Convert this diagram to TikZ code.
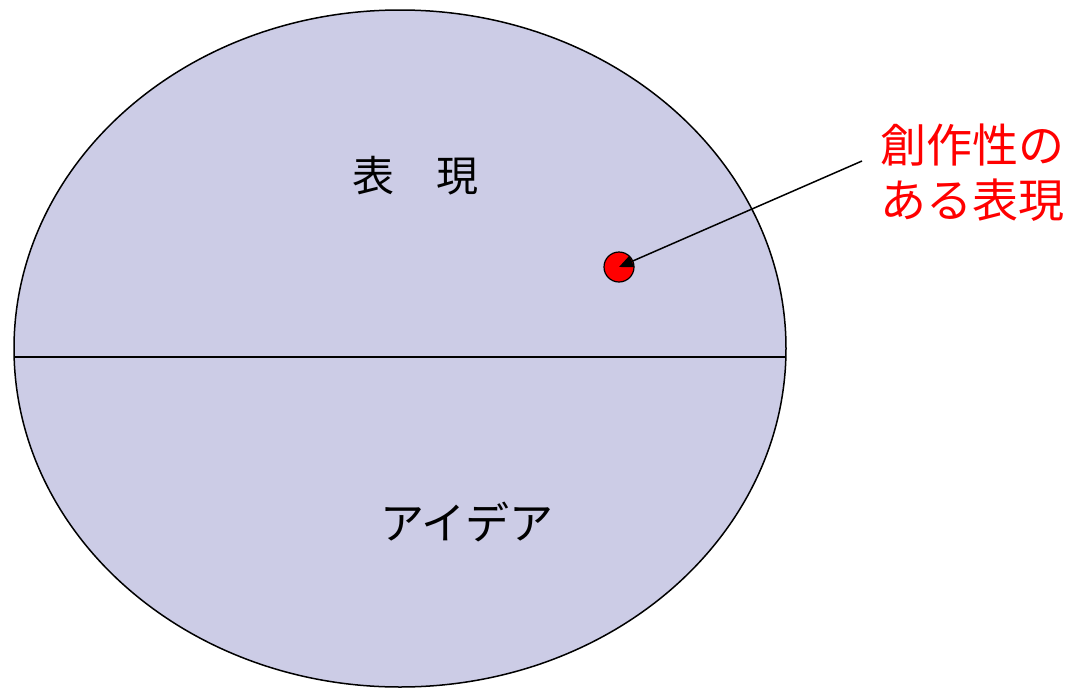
\documentclass[tikz,border=0pt]{standalone}
\usepackage{fontspec}
\usetikzlibrary{arrows.meta}
\newfontfamily\jpfont{Noto Sans CJK JP}
\definecolor{lavender}{RGB}{204,204,230}
\definecolor{pure red}{RGB}{255,0,0}

\begin{document}
\begin{tikzpicture}[x=1pt,y=-1pt,line width=1.5pt]
\useasboundingbox (0,0) rectangle (1072,689);
% Whole region
\fill[lavender] (400,348.5) ellipse [x radius=386,y radius=338.5];
\begin{scope}
\clip (400,348.5) ellipse [x radius=386,y radius=338.5];
\draw (0,357) -- (1072,357);
\end{scope}
\draw (400,348.5) ellipse [x radius=386,y radius=338.5];
% Labels
\node[font=\jpfont\fontsize{42}{42}\selectfont] (expr) at (415,176) {表\hspace{1em}現};
\node[font=\jpfont\fontsize{44}{44}\selectfont] (idea) at (467,522) {アイデア};
% Creative expression
\node[circle,draw,fill=pure red,line width=1.2pt,minimum size=30pt,inner sep=0pt] (dot) at (619,267) {};
\node[align=center,text=pure red,font=\jpfont\fontsize{46}{55}\selectfont] (crea) at (972,173) {創作性の\\ある表現};
\coordinate (start) at (862,161);
\draw[-{Triangle[length=14pt,width=12pt]}] (start) -- (dot.center);
\end{tikzpicture}
\end{document}
